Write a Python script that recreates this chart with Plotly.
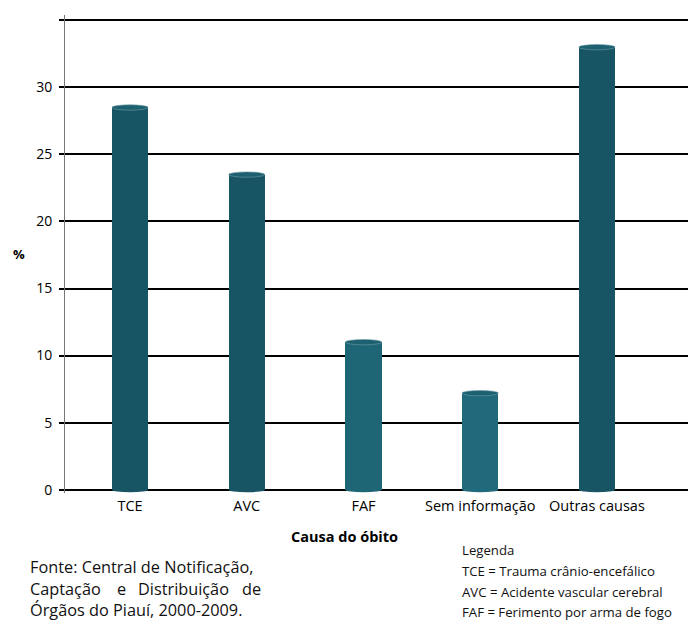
import plotly.graph_objects as go

categories = ["TCE", "AVC", "FAF", "Sem informação", "Outras causas"]
values = [28.5, 23.5, 11.0, 7.2, 33.0]
bar_colors = ["#175464", "#175464", "#1e6676", "#206a7b", "#175464"]
ytick_vals = [0, 5, 10, 15, 20, 25, 30, 35]
ytick_text = ["0", "5", "10", "15", "20", "25", "30", ""]

W, H = 696, 622
ML, MR, MT, MB = 65, 8, 15, 129
FONT = "Open Sans"

fig = go.Figure()
fig.add_trace(go.Bar(
    x=categories, y=values, width=0.31,
    marker=dict(color=bar_colors, line=dict(width=0)),
    hoverinfo="x+y",
))

# cylinder caps (top ellipses and rounded bottoms), computed from data
shapes = []
hw, eh = 0.155, 0.2
for i, v in enumerate(values):
    shapes.append(dict(type="circle", xref="x", yref="y",
                       x0=i - hw, x1=i + hw, y0=-eh, y1=eh,
                       fillcolor=bar_colors[i], line=dict(width=0), layer="above"))
    shapes.append(dict(type="circle", xref="x", yref="y",
                       x0=i - hw, x1=i + hw, y0=v - eh, y1=v + eh,
                       fillcolor="#1d6070", line=dict(color="#6f9ca6", width=0.6), layer="above"))


def px(x):
    return (x - ML) / (W - ML - MR)


def py(y):
    return (H - MB - y) / (H - MT - MB)


ann = []
ann.append(dict(text="<b>Causa do óbito</b>", x=px(344), y=py(536), xref="paper", yref="paper",
                showarrow=False, font=dict(size=14.5, family=FONT, color="black"),
                xanchor="center", yanchor="middle"))
ann.append(dict(text="<b>%</b>", x=px(19), y=py(254), xref="paper", yref="paper",
                showarrow=False, font=dict(size=13, family=FONT, color="black"),
                xanchor="center", yanchor="middle"))
fonte_lines = [("Fonte: Central de Notificação,", 567), ("Órgãos do Piauí, 2000-2009.", 610)]
for t, yy in fonte_lines:
    ann.append(dict(text=t, x=px(28), y=py(yy), xref="paper", yref="paper",
                    showarrow=False, font=dict(size=16.3, family=FONT, color="#111"),
                    xanchor="left", yanchor="middle"))
# justified middle line
for t, xx, anc in [("Captação", 28, "left"), ("e", 121, "center"),
                   ("Distribuição", 136, "left"), ("de", 263, "right")]:
    ann.append(dict(text=t, x=px(xx), y=py(589), xref="paper", yref="paper",
                    showarrow=False, font=dict(size=16.3, family=FONT, color="#111"),
                    xanchor=anc, yanchor="middle"))
legend_lines = [("Legenda", 550), ("TCE = Trauma crânio-encefálico", 571),
                ("AVC = Acidente vascular cerebral", 592), ("FAF = Ferimento por arma de fogo", 612)]
for t, yy in legend_lines:
    ann.append(dict(text=t, x=px(460), y=py(yy), xref="paper", yref="paper",
                    showarrow=False, font=dict(size=13.2, family=FONT, color="#111"),
                    xanchor="left", yanchor="middle"))

fig.update_layout(
    width=W, height=H,
    margin=dict(l=ML, r=MR, t=MT, b=MB, pad=0),
    paper_bgcolor="white", plot_bgcolor="white",
    showlegend=False, bargap=0,
    font=dict(family=FONT, size=14, color="black"),
    shapes=shapes, annotations=ann,
    xaxis=dict(type="category", range=[-0.557, 4.78], showgrid=False, zeroline=False,
               showline=False, ticks="", tickfont=dict(size=14.5, family=FONT),
               ticklabelstandoff=2),
    yaxis=dict(range=[-0.25, 35.4], tickvals=ytick_vals, ticktext=ytick_text,
               showgrid=True, gridcolor="black", gridwidth=2, zeroline=False,
               showline=True, linecolor="#777", linewidth=1,
               ticks="outside", ticklen=5, tickcolor="black", tickwidth=2,
               tickfont=dict(size=14, family=FONT), ticklabelstandoff=4),
)

fig.write_html("out.html")
